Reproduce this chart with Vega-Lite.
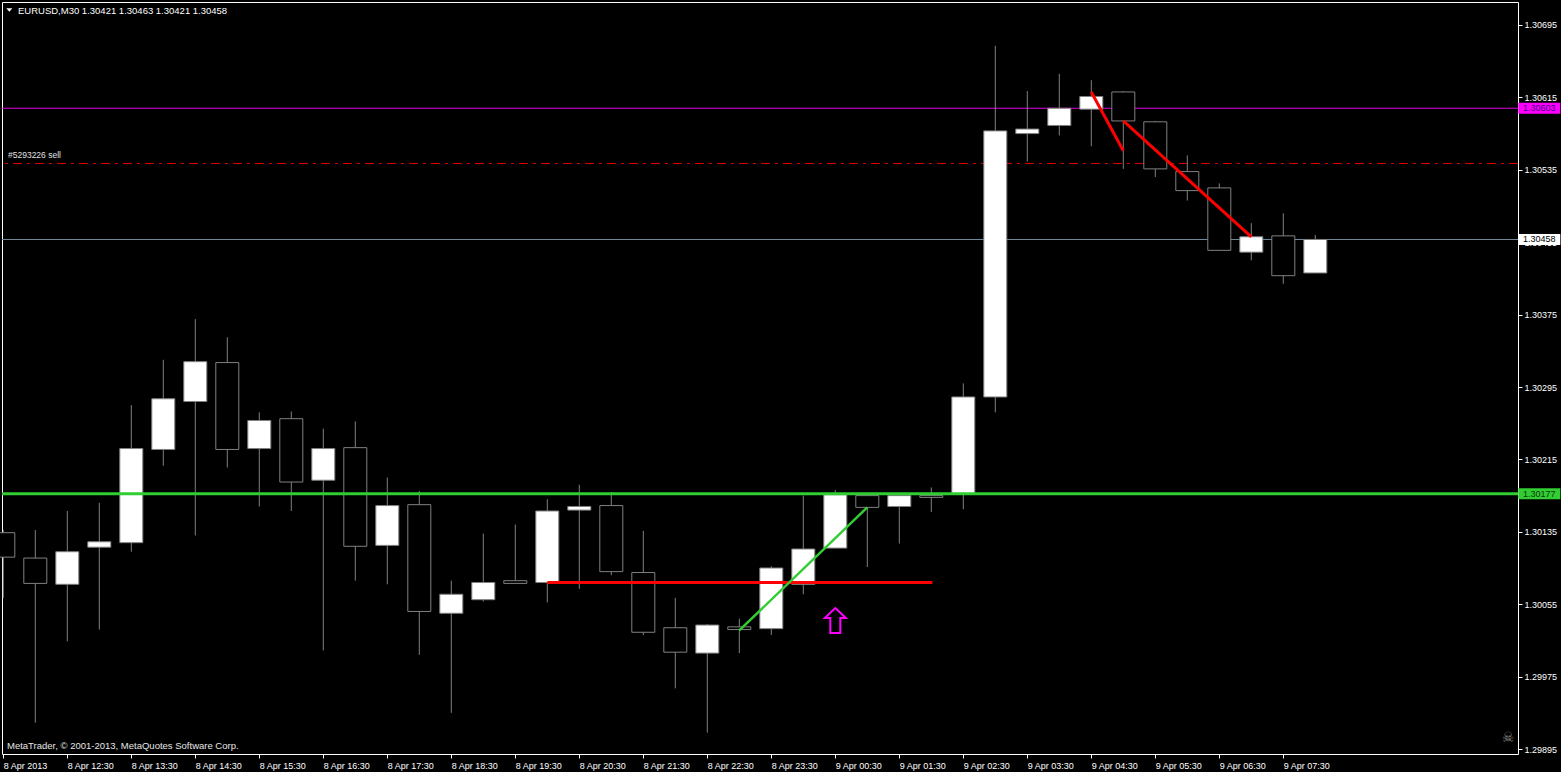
{
  "$schema": "https://vega.github.io/schema/vega-lite/v6.json",
  "width": 1516,
  "height": 752,
  "autosize": {"type": "none"},
  "padding": {"left": 2, "top": 2, "right": 43, "bottom": 18},
  "background": "#000000",
  "config": {
    "view": {"stroke": "#ffffff", "strokeWidth": 1},
    "font": "Liberation Sans",
    "axis": {"domain": false, "grid": false, "tickColor": "#ffffff", "tickSize": 4, "labelColor": "#ffffff", "labelFont": "Liberation Sans", "labelFontSize": 9, "labelOverlap": false, "labelFlush": false}
  },
  "datasets": {
    "bars": [
      {"t": "2013-04-08T11:30:00Z", "o": 1.30134, "h": 1.30137, "l": 1.30062, "c": 1.30107},
      {"t": "2013-04-08T12:00:00Z", "o": 1.30106, "h": 1.30137, "l": 1.29924, "c": 1.30078},
      {"t": "2013-04-08T12:30:00Z", "o": 1.30077, "h": 1.30158, "l": 1.30014, "c": 1.30113},
      {"t": "2013-04-08T13:00:00Z", "o": 1.30118, "h": 1.30167, "l": 1.30027, "c": 1.30124},
      {"t": "2013-04-08T13:30:00Z", "o": 1.30123, "h": 1.30275, "l": 1.30113, "c": 1.30227},
      {"t": "2013-04-08T14:00:00Z", "o": 1.30226, "h": 1.30325, "l": 1.30208, "c": 1.30282},
      {"t": "2013-04-08T14:30:00Z", "o": 1.30279, "h": 1.30370, "l": 1.30131, "c": 1.30323},
      {"t": "2013-04-08T15:00:00Z", "o": 1.30322, "h": 1.30350, "l": 1.30206, "c": 1.30226},
      {"t": "2013-04-08T15:30:00Z", "o": 1.30227, "h": 1.30267, "l": 1.30163, "c": 1.30258},
      {"t": "2013-04-08T16:00:00Z", "o": 1.30260, "h": 1.30268, "l": 1.30158, "c": 1.30190},
      {"t": "2013-04-08T16:30:00Z", "o": 1.30192, "h": 1.30249, "l": 1.30004, "c": 1.30227},
      {"t": "2013-04-08T17:00:00Z", "o": 1.30228, "h": 1.30257, "l": 1.30081, "c": 1.30119},
      {"t": "2013-04-08T17:30:00Z", "o": 1.30120, "h": 1.30195, "l": 1.30077, "c": 1.30164},
      {"t": "2013-04-08T18:00:00Z", "o": 1.30165, "h": 1.30180, "l": 1.29999, "c": 1.30047},
      {"t": "2013-04-08T18:30:00Z", "o": 1.30045, "h": 1.30081, "l": 1.29935, "c": 1.30066},
      {"t": "2013-04-08T19:00:00Z", "o": 1.30060, "h": 1.30133, "l": 1.30058, "c": 1.30079},
      {"t": "2013-04-08T19:30:00Z", "o": 1.30081, "h": 1.30143, "l": 1.30078, "c": 1.30078},
      {"t": "2013-04-08T20:00:00Z", "o": 1.30079, "h": 1.30171, "l": 1.30057, "c": 1.30158},
      {"t": "2013-04-08T20:30:00Z", "o": 1.30159, "h": 1.30187, "l": 1.30072, "c": 1.30163},
      {"t": "2013-04-08T21:00:00Z", "o": 1.30164, "h": 1.30179, "l": 1.30087, "c": 1.30091},
      {"t": "2013-04-08T21:30:00Z", "o": 1.30090, "h": 1.30136, "l": 1.30021, "c": 1.30024},
      {"t": "2013-04-08T22:00:00Z", "o": 1.30029, "h": 1.30062, "l": 1.29962, "c": 1.30002},
      {"t": "2013-04-08T22:30:00Z", "o": 1.30001, "h": 1.30033, "l": 1.29913, "c": 1.30032},
      {"t": "2013-04-08T23:00:00Z", "o": 1.30030, "h": 1.30039, "l": 1.30001, "c": 1.30027},
      {"t": "2013-04-08T23:30:00Z", "o": 1.30028, "h": 1.30097, "l": 1.30021, "c": 1.30095},
      {"t": "2013-04-09T00:00:00Z", "o": 1.30077, "h": 1.30175, "l": 1.30066, "c": 1.30116},
      {"t": "2013-04-09T00:30:00Z", "o": 1.30117, "h": 1.30181, "l": 1.30117, "c": 1.30176},
      {"t": "2013-04-09T01:00:00Z", "o": 1.30175, "h": 1.30177, "l": 1.30096, "c": 1.30162},
      {"t": "2013-04-09T01:30:00Z", "o": 1.30163, "h": 1.30177, "l": 1.30122, "c": 1.30175},
      {"t": "2013-04-09T02:00:00Z", "o": 1.30175, "h": 1.30184, "l": 1.30157, "c": 1.30173},
      {"t": "2013-04-09T02:30:00Z", "o": 1.30177, "h": 1.30299, "l": 1.30160, "c": 1.30284},
      {"t": "2013-04-09T03:00:00Z", "o": 1.30284, "h": 1.30672, "l": 1.30267, "c": 1.30578},
      {"t": "2013-04-09T03:30:00Z", "o": 1.30575, "h": 1.30622, "l": 1.30544, "c": 1.30580},
      {"t": "2013-04-09T04:00:00Z", "o": 1.30584, "h": 1.30641, "l": 1.30573, "c": 1.30603},
      {"t": "2013-04-09T04:30:00Z", "o": 1.30602, "h": 1.30634, "l": 1.30561, "c": 1.30616},
      {"t": "2013-04-09T05:00:00Z", "o": 1.30621, "h": 1.30622, "l": 1.30536, "c": 1.30589},
      {"t": "2013-04-09T05:30:00Z", "o": 1.30588, "h": 1.30589, "l": 1.30527, "c": 1.30536},
      {"t": "2013-04-09T06:00:00Z", "o": 1.30533, "h": 1.30551, "l": 1.30501, "c": 1.30512},
      {"t": "2013-04-09T06:30:00Z", "o": 1.30515, "h": 1.30520, "l": 1.30446, "c": 1.30446},
      {"t": "2013-04-09T07:00:00Z", "o": 1.30444, "h": 1.30476, "l": 1.30435, "c": 1.30461},
      {"t": "2013-04-09T07:30:00Z", "o": 1.30462, "h": 1.30487, "l": 1.30409, "c": 1.30418},
      {"t": "2013-04-09T08:00:00Z", "o": 1.30421, "h": 1.30463, "l": 1.30421, "c": 1.30458}
    ],
    "levels": [
      {"name": "ask", "p": 1.30603},
      {"name": "bid", "p": 1.30458},
      {"name": "order", "p": 1.30542},
      {"name": "support", "p": 1.30177}
    ],
    "trend": [
      {"id": "up", "t": "2013-04-08T23:00:00Z", "p": 1.30026},
      {"id": "up", "t": "2013-04-09T01:00:00Z", "p": 1.30162},
      {"id": "base", "t": "2013-04-08T20:00:00Z", "p": 1.30079},
      {"id": "base", "t": "2013-04-09T02:01:00Z", "p": 1.30079},
      {"id": "down1", "t": "2013-04-09T04:30:00Z", "p": 1.30621},
      {"id": "down1", "t": "2013-04-09T05:00:00Z", "p": 1.30556},
      {"id": "down2", "t": "2013-04-09T05:00:00Z", "p": 1.30589},
      {"id": "down2", "t": "2013-04-09T07:00:00Z", "p": 1.30461}
    ],
    "arrow": [
      {"t": "2013-04-09T00:30:00Z", "p": 1.30037}
    ],
    "marker": [
      {"t": "2013-04-08T11:35:38Z", "p": 1.307116}
    ],
    "notes": [
      {"kind": "head", "label": "EURUSD,M30  1.30421 1.30463 1.30421 1.30458", "t": "2013-04-08T11:43:47Z", "p": 1.307072},
      {"kind": "order", "label": "#5293226 sell", "t": "2013-04-08T11:34:24Z", "p": 1.30545},
      {"kind": "copy", "label": "MetaTrader, © 2001-2013, MetaQuotes Software Corp.", "t": "2013-04-08T11:33:28Z", "p": 1.29895},
      {"kind": "skull", "label": "☠", "t": "2013-04-09T11:00:36Z", "p": 1.29907}
    ]
  },
  "layer": [
    {
      "data": {"name": "levels"},
      "transform": [{"filter": "datum.name === 'ask'"}],
      "mark": {"type": "rule", "color": "#e000e0", "strokeWidth": 1},
      "encoding": {"y": {"field": "p", "type": "quantitative", "title": null, "scale": {"domain": [1.298895, 1.307204], "nice": false, "zero": false}}}
    },
    {
      "data": {"name": "levels"},
      "transform": [{"filter": "datum.name === 'bid'"}],
      "mark": {"type": "rule", "color": "#778899", "strokeWidth": 1},
      "encoding": {"y": {"field": "p", "type": "quantitative", "title": null, "scale": {"domain": [1.298895, 1.307204], "nice": false, "zero": false}}}
    },
    {
      "data": {"name": "levels"},
      "transform": [{"filter": "datum.name === 'order'"}],
      "mark": {"type": "rule", "color": "#e00000", "strokeWidth": 1, "strokeDash": [9, 5, 3, 5]},
      "encoding": {"y": {"field": "p", "type": "quantitative", "title": null, "scale": {"domain": [1.298895, 1.307204], "nice": false, "zero": false}}}
    },
    {
      "data": {"name": "bars"},
      "mark": {"type": "rule", "color": "#808080", "strokeWidth": 1},
      "encoding": {
        "x": {"field": "t", "type": "temporal", "title": null,
          "scale": {"type": "utc", "padding": 0, "domain": [{"year": 2013, "month": 4, "date": 8, "hours": 11, "minutes": 28, "seconds": 47, "utc": true}, {"year": 2013, "month": 4, "date": 9, "hours": 11, "minutes": 10, "seconds": 2, "utc": true}]},
          "axis": {"orient": "bottom", "title": null, "labelAlign": "left", "labelBaseline": "top", "labelPadding": 3, "tickSize": 4,
            "values": [
              {"year": 2013, "month": 4, "date": 8, "hours": 11, "minutes": 30, "utc": true},
              {"year": 2013, "month": 4, "date": 8, "hours": 12, "minutes": 30, "utc": true},
              {"year": 2013, "month": 4, "date": 8, "hours": 13, "minutes": 30, "utc": true},
              {"year": 2013, "month": 4, "date": 8, "hours": 14, "minutes": 30, "utc": true},
              {"year": 2013, "month": 4, "date": 8, "hours": 15, "minutes": 30, "utc": true},
              {"year": 2013, "month": 4, "date": 8, "hours": 16, "minutes": 30, "utc": true},
              {"year": 2013, "month": 4, "date": 8, "hours": 17, "minutes": 30, "utc": true},
              {"year": 2013, "month": 4, "date": 8, "hours": 18, "minutes": 30, "utc": true},
              {"year": 2013, "month": 4, "date": 8, "hours": 19, "minutes": 30, "utc": true},
              {"year": 2013, "month": 4, "date": 8, "hours": 20, "minutes": 30, "utc": true},
              {"year": 2013, "month": 4, "date": 8, "hours": 21, "minutes": 30, "utc": true},
              {"year": 2013, "month": 4, "date": 8, "hours": 22, "minutes": 30, "utc": true},
              {"year": 2013, "month": 4, "date": 8, "hours": 23, "minutes": 30, "utc": true},
              {"year": 2013, "month": 4, "date": 9, "hours": 0, "minutes": 30, "utc": true},
              {"year": 2013, "month": 4, "date": 9, "hours": 1, "minutes": 30, "utc": true},
              {"year": 2013, "month": 4, "date": 9, "hours": 2, "minutes": 30, "utc": true},
              {"year": 2013, "month": 4, "date": 9, "hours": 3, "minutes": 30, "utc": true},
              {"year": 2013, "month": 4, "date": 9, "hours": 4, "minutes": 30, "utc": true},
              {"year": 2013, "month": 4, "date": 9, "hours": 5, "minutes": 30, "utc": true},
              {"year": 2013, "month": 4, "date": 9, "hours": 6, "minutes": 30, "utc": true},
              {"year": 2013, "month": 4, "date": 9, "hours": 7, "minutes": 30, "utc": true}
            ],
            "labelExpr": "datum.value < utc(2013,3,8,12,0) ? '8 Apr 2013' : utcFormat(datum.value, '%-d %b %H:%M')"
          }
        },
        "y": {"field": "l", "type": "quantitative", "title": null,
          "scale": {"domain": [1.298895, 1.307204], "nice": false, "zero": false},
          "axis": {"orient": "right", "title": null, "format": ".5f", "labelAlign": "left", "labelBaseline": "middle", "labelPadding": 2, "tickSize": 4,
            "values": [1.30695, 1.30655, 1.30615, 1.30575, 1.30535, 1.30495, 1.30455, 1.30415, 1.30375, 1.30335, 1.30295, 1.30255, 1.30215, 1.30175, 1.30135, 1.30095, 1.30055, 1.30015, 1.29975, 1.29935, 1.29895]}
        },
        "y2": {"field": "h"}
      }
    },
    {
      "data": {"name": "bars"},
      "mark": {"type": "bar", "width": 23, "stroke": "#808080", "strokeWidth": 1},
      "encoding": {
        "x": {"field": "t", "type": "temporal", "title": null},
        "y": {"field": "o", "type": "quantitative", "title": null, "scale": {"domain": [1.298895, 1.307204], "nice": false, "zero": false}},
        "y2": {"field": "c"},
        "fill": {"condition": {"test": "datum.c > datum.o", "value": "#ffffff"}, "value": "#000000"}
      }
    },
    {
      "data": {"name": "levels"},
      "transform": [{"filter": "datum.name === 'support'"}],
      "mark": {"type": "rule", "color": "#32cd32", "strokeWidth": 3},
      "encoding": {"y": {"field": "p", "type": "quantitative", "title": null, "scale": {"domain": [1.298895, 1.307204], "nice": false, "zero": false}}}
    },
    {
      "data": {"name": "trend"},
      "transform": [{"filter": "datum.id !== 'up'"}],
      "mark": {"type": "line", "color": "#ff0000", "strokeWidth": 3},
      "encoding": {
        "x": {"field": "t", "type": "temporal", "title": null},
        "y": {"field": "p", "type": "quantitative", "title": null, "scale": {"domain": [1.298895, 1.307204], "nice": false, "zero": false}},
        "detail": {"field": "id"}
      }
    },
    {
      "data": {"name": "trend"},
      "transform": [{"filter": "datum.id === 'up'"}],
      "mark": {"type": "line", "color": "#32cd32", "strokeWidth": 2.5},
      "encoding": {
        "x": {"field": "t", "type": "temporal", "title": null},
        "y": {"field": "p", "type": "quantitative", "title": null, "scale": {"domain": [1.298895, 1.307204], "nice": false, "zero": false}},
        "detail": {"field": "id"}
      }
    },
    {
      "data": {"name": "arrow"},
      "mark": {"type": "point", "shape": "M0,-1 L0.84,-0.2 L0.4,-0.2 L0.4,1 L-0.4,1 L-0.4,-0.2 L-0.84,-0.2 Z", "size": 625, "filled": false, "color": "#ff00ff", "strokeWidth": 2, "opacity": 1},
      "encoding": {
        "x": {"field": "t", "type": "temporal", "title": null},
        "y": {"field": "p", "type": "quantitative", "title": null, "scale": {"domain": [1.298895, 1.307204], "nice": false, "zero": false}}
      }
    },
    {
      "data": {"name": "marker"},
      "mark": {"type": "point", "shape": "M-1,-0.6 L1,-0.6 L0,0.6 Z", "size": 36, "filled": true, "color": "#ffffff", "strokeWidth": 0, "opacity": 1},
      "encoding": {
        "x": {"field": "t", "type": "temporal", "title": null},
        "y": {"field": "p", "type": "quantitative", "title": null, "scale": {"domain": [1.298895, 1.307204], "nice": false, "zero": false}}
      }
    },
    {
      "data": {"name": "notes"},
      "transform": [{"filter": "datum.kind === 'head'"}],
      "mark": {"type": "text", "align": "left", "baseline": "alphabetic", "color": "#ffffff", "font": "Liberation Sans", "fontSize": 9.5},
      "encoding": {
        "x": {"field": "t", "type": "temporal", "title": null},
        "y": {"field": "p", "type": "quantitative", "title": null, "scale": {"domain": [1.298895, 1.307204], "nice": false, "zero": false}},
        "text": {"field": "label"}
      }
    },
    {
      "data": {"name": "notes"},
      "transform": [{"filter": "datum.kind === 'order'"}],
      "mark": {"type": "text", "align": "left", "baseline": "alphabetic", "dy": -3, "color": "#e0e0e0", "font": "Liberation Sans", "fontSize": 8.5},
      "encoding": {
        "x": {"field": "t", "type": "temporal", "title": null},
        "y": {"field": "p", "type": "quantitative", "title": null, "scale": {"domain": [1.298895, 1.307204], "nice": false, "zero": false}},
        "text": {"field": "label"}
      }
    },
    {
      "data": {"name": "notes"},
      "transform": [{"filter": "datum.kind === 'copy'"}],
      "mark": {"type": "text", "align": "left", "baseline": "alphabetic", "color": "#e6e6e6", "font": "Liberation Sans", "fontSize": 9.5},
      "encoding": {
        "x": {"field": "t", "type": "temporal", "title": null},
        "y": {"field": "p", "type": "quantitative", "title": null, "scale": {"domain": [1.298895, 1.307204], "nice": false, "zero": false}},
        "text": {"field": "label"}
      }
    },
    {
      "data": {"name": "notes"},
      "transform": [{"filter": "datum.kind === 'skull'"}],
      "mark": {"type": "text", "align": "center", "baseline": "middle", "color": "#8a8a8a", "font": "DejaVu Sans", "fontSize": 14},
      "encoding": {
        "x": {"field": "t", "type": "temporal", "title": null},
        "y": {"field": "p", "type": "quantitative", "title": null, "scale": {"domain": [1.298895, 1.307204], "nice": false, "zero": false}},
        "text": {"field": "label"}
      }
    },
    {
      "data": {"name": "levels"},
      "transform": [{"filter": "datum.name !== 'order'"}],
      "mark": {"type": "point", "shape": "M-1,-0.262 L1,-0.262 L1,0.262 L-1,0.262 Z", "size": 1764, "filled": true, "strokeWidth": 0, "opacity": 1},
      "encoding": {
        "x": {"datum": {"year": 2013, "month": 4, "date": 9, "hours": 11, "minutes": 30, "utc": true}, "type": "temporal", "title": null},
        "y": {"field": "p", "type": "quantitative", "title": null, "scale": {"domain": [1.298895, 1.307204], "nice": false, "zero": false}},
        "fill": {"field": "name", "type": "nominal", "legend": null, "scale": {"domain": ["ask", "bid", "support"], "range": ["#ff00ff", "#ffffff", "#32cd32"]}}
      }
    },
    {
      "data": {"name": "levels"},
      "transform": [{"filter": "datum.name !== 'order'"}],
      "mark": {"type": "text", "align": "center", "baseline": "middle", "font": "Liberation Sans", "fontSize": 9},
      "encoding": {
        "x": {"datum": {"year": 2013, "month": 4, "date": 9, "hours": 11, "minutes": 30, "utc": true}, "type": "temporal", "title": null},
        "y": {"field": "p", "type": "quantitative", "title": null, "scale": {"domain": [1.298895, 1.307204], "nice": false, "zero": false}},
        "text": {"field": "p", "type": "quantitative", "format": ".5f"},
        "color": {"field": "name", "type": "nominal", "legend": null, "scale": {"domain": ["ask", "bid", "support"], "range": ["#400080", "#000000", "#0a3a0a"]}}
      }
    }
  ]
}
